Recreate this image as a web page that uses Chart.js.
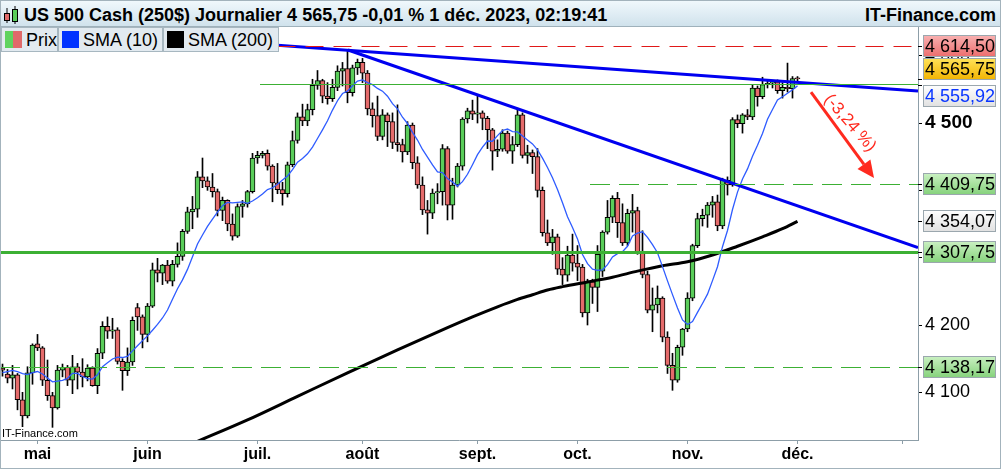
<!DOCTYPE html>
<html lang="fr">
<head>
<meta charset="utf-8">
<title>US 500 Cash (250$) Journalier</title>
<script src="https://cdn.jsdelivr.net/npm/chart.js@4.4.0/dist/chart.umd.min.js"></script>
<style>
  html, body { margin: 0; padding: 0; background: #fff; }
  #wrap { position: relative; width: 1001px; height: 469px; overflow: hidden; font-family: 'Liberation Sans', Arial, sans-serif; color: #000; }
  #chart { position: absolute; left: 0; top: 0; }
  #head { position: absolute; left: 0; top: 0; width: 1001px; height: 27px; box-sizing: border-box; border: 1px solid #9fb1bb; background: linear-gradient(#f0f8fc, #d0e2ec); font-weight: bold; font-size: 18px; }
  #head .t { position: absolute; left: 23px; top: 4px; line-height: 20px; white-space: nowrap; }
  #head .s { position: absolute; right: 4px; top: 4px; line-height: 20px; }
  #head svg { position: absolute; left: 2px; top: 4px; }
  .lg { position: absolute; top: 27px; height: 25px; box-sizing: border-box; border: 1px solid #a7b7c0; background: #e2eaf0; font-size: 18px; white-space: nowrap; }
  .lg .sw { position: absolute; left: 3px; top: 3px; width: 17px; height: 17px; }
  .lg .l { position: absolute; left: 24px; top: 0; line-height: 24px; }
  #wm { position: absolute; left: 2px; top: 427px; font-size: 11px; }
  #frame { position: absolute; left: 0; top: 0; right: 0; bottom: 0; border: 1px solid #a3b3bc; pointer-events: none; }
</style>
</head>
<body>
<div id="wrap">
  <canvas id="chart" width="1001" height="469"></canvas>
  <div id="head">
    <svg width="18" height="20" viewBox="0 0 18 20">
      <line x1="4" y1="3" x2="4" y2="18" stroke="#000"/>
      <rect x="1.5" y="8.5" width="5" height="7" fill="#e06a6a" stroke="#000"/>
      <line x1="12" y1="1" x2="12" y2="19" stroke="#000"/>
      <rect x="9.5" y="4.5" width="5" height="12" fill="#5acd5a" stroke="#000"/>
    </svg>
    <span class="t">US 500 Cash (250$) Journalier 4 565,75 -0,01 % 1 déc. 2023, 02:19:41</span>
    <span class="s">IT-Finance.com</span>
  </div>
  <div class="lg" style="left:1px;width:57px"><span class="sw" style="background:linear-gradient(90deg,#5fd35f 50%,#e06a6a 50%)"></span><span class="l">Prix</span></div>
  <div class="lg" style="left:58px;width:105px"><span class="sw" style="background:#0033ff"></span><span class="l">SMA (10)</span></div>
  <div class="lg" style="left:163px;width:116px"><span class="sw" style="background:#000"></span><span class="l">SMA (200)</span></div>
  <div id="wm">IT-Finance.com</div>
  <div id="frame"></div>
</div>
<script>
// daily candles, US 500 cash CFD
const days = [
  '2023-04-20','2023-04-21','2023-04-24','2023-04-25','2023-04-26','2023-04-27','2023-04-28',
  '2023-05-01','2023-05-02','2023-05-03','2023-05-04','2023-05-05',
  '2023-05-08','2023-05-09','2023-05-10','2023-05-11','2023-05-12',
  '2023-05-15','2023-05-16','2023-05-17','2023-05-18','2023-05-19',
  '2023-05-22','2023-05-23','2023-05-24','2023-05-25','2023-05-26',
  '2023-05-30','2023-05-31',
  '2023-06-01','2023-06-02',
  '2023-06-05','2023-06-06','2023-06-07','2023-06-08','2023-06-09',
  '2023-06-12','2023-06-13','2023-06-14','2023-06-15','2023-06-16',
  '2023-06-19','2023-06-20','2023-06-21','2023-06-22','2023-06-23',
  '2023-06-26','2023-06-27','2023-06-28','2023-06-29','2023-06-30',
  '2023-07-03','2023-07-04','2023-07-05','2023-07-06','2023-07-07',
  '2023-07-10','2023-07-11','2023-07-12','2023-07-13','2023-07-14',
  '2023-07-17','2023-07-18','2023-07-19','2023-07-20','2023-07-21',
  '2023-07-24','2023-07-25','2023-07-26','2023-07-27','2023-07-28',
  '2023-07-31',
  '2023-08-01','2023-08-02','2023-08-03','2023-08-04',
  '2023-08-07','2023-08-08','2023-08-09','2023-08-10','2023-08-11',
  '2023-08-14','2023-08-15','2023-08-16','2023-08-17','2023-08-18',
  '2023-08-21','2023-08-22','2023-08-23','2023-08-24','2023-08-25',
  '2023-08-28','2023-08-29','2023-08-30','2023-08-31',
  '2023-09-01',
  '2023-09-05','2023-09-06','2023-09-07','2023-09-08',
  '2023-09-11','2023-09-12','2023-09-13','2023-09-14','2023-09-15',
  '2023-09-18','2023-09-19','2023-09-20','2023-09-21','2023-09-22',
  '2023-09-25','2023-09-26','2023-09-27','2023-09-28','2023-09-29',
  '2023-10-02','2023-10-03','2023-10-04','2023-10-05','2023-10-06',
  '2023-10-09','2023-10-10','2023-10-11','2023-10-12','2023-10-13',
  '2023-10-16','2023-10-17','2023-10-18','2023-10-19','2023-10-20',
  '2023-10-23','2023-10-24','2023-10-25','2023-10-26','2023-10-27',
  '2023-10-30','2023-10-31',
  '2023-11-01','2023-11-02','2023-11-03',
  '2023-11-06','2023-11-07','2023-11-08','2023-11-09','2023-11-10',
  '2023-11-13','2023-11-14','2023-11-15','2023-11-16','2023-11-17',
  '2023-11-20','2023-11-21','2023-11-22','2023-11-23','2023-11-24',
  '2023-11-27','2023-11-28','2023-11-29','2023-11-30',
  '2023-12-01'
];

const open = [
  4136, 4127, 4121, 4126, 4089, 4065, 4129,
  4172, 4166, 4118, 4095, 4077,
  4133, 4137, 4118, 4138, 4130,
  4123, 4136, 4110, 4158, 4198,
  4191, 4193, 4146, 4132, 4145,
  4226, 4212,
  4186, 4228,
  4282, 4277, 4289, 4265, 4290,
  4302, 4339, 4368, 4372, 4420,
  4414, 4405, 4398, 4370, 4385,
  4350, 4332, 4376, 4380, 4398,
  4448, 4452, 4455, 4436, 4411,
  4401, 4395, 4438, 4474, 4509,
  4503, 4520, 4556, 4563, 4540,
  4536, 4553, 4577, 4581, 4545,
  4582,
  4590, 4574, 4521, 4511,
  4480, 4512, 4502, 4471, 4468,
  4457, 4497, 4441, 4408, 4371,
  4366, 4396, 4398, 4462, 4378,
  4408, 4436, 4506, 4518,
  4513,
  4515, 4507, 4490, 4458,
  4461, 4485, 4458, 4468, 4512,
  4452, 4456, 4450, 4400, 4337,
  4322, 4331, 4283, 4274, 4304,
  4292, 4286, 4218, 4264, 4256,
  4280, 4338, 4360, 4388, 4352,
  4322, 4366, 4370, 4308, 4275,
  4222, 4230, 4240, 4182, 4140,
  4118, 4167,
  4194, 4240, 4318,
  4358, 4363, 4378, 4383, 4347,
  4415, 4408, 4505, 4499, 4512,
  4509, 4552, 4539, 4557, 4559,
  4561, 4548, 4553, 4551,
  4566
];

const high = [
  4142, 4134, 4140, 4128, 4100, 4138, 4172,
  4186, 4168, 4148, 4100, 4140,
  4142, 4140, 4155, 4143, 4150,
  4141, 4138, 4165, 4205, 4212,
  4210, 4196, 4150, 4166, 4212,
  4232, 4215,
  4232, 4292,
  4299, 4290, 4296, 4296, 4322,
  4342, 4375, 4391, 4428, 4448,
  4420, 4425, 4402, 4390, 4386,
  4365, 4380, 4385, 4400, 4455,
  4458, 4458, 4460, 4438, 4440,
  4412, 4442, 4488, 4515, 4528,
  4528, 4565, 4578, 4565, 4560,
  4565, 4585, 4590, 4607, 4586,
  4595,
  4596, 4578, 4530, 4540,
  4520, 4515, 4515, 4527, 4476,
  4502, 4500, 4450, 4420, 4385,
  4402, 4410, 4468, 4465, 4418,
  4440, 4508, 4522, 4534,
  4541,
  4518, 4510, 4492, 4475,
  4490, 4488, 4480, 4522, 4515,
  4467, 4460, 4462, 4405, 4356,
  4342, 4335, 4300, 4317, 4335,
  4318, 4290, 4268, 4268, 4318,
  4340, 4385, 4392, 4397, 4380,
  4372, 4394, 4375, 4340, 4280,
  4255, 4258, 4242, 4190, 4158,
  4170, 4195,
  4248, 4320, 4366,
  4372, 4382, 4391, 4393, 4418,
  4420, 4508, 4512, 4514, 4520,
  4556, 4555, 4568, 4562, 4562,
  4564, 4560, 4589, 4569,
  4569
];

const low = [
  4124, 4114, 4105, 4074, 4049, 4062, 4112,
  4162, 4110, 4088, 4048, 4075,
  4123, 4110, 4098, 4105, 4108,
  4117, 4109, 4098, 4150, 4180,
  4180, 4142, 4103, 4125, 4140,
  4192, 4166,
  4175, 4226,
  4264, 4260, 4262, 4258, 4286,
  4296, 4336, 4343, 4360, 4404,
  4400, 4390, 4362, 4355, 4340,
  4326, 4330, 4360, 4375, 4396,
  4440, 4448, 4430, 4383, 4395,
  4378, 4390, 4435, 4470, 4496,
  4496, 4512, 4550, 4530, 4528,
  4532, 4548, 4555, 4530, 4540,
  4572,
  4560, 4512, 4494, 4474,
  4475, 4465, 4462, 4458, 4442,
  4453, 4432, 4403, 4364, 4335,
  4358, 4380, 4378, 4356, 4357,
  4405, 4430, 4500, 4505,
  4500,
  4490, 4462, 4430, 4450,
  4458, 4455, 4440, 4465, 4448,
  4440, 4425, 4390, 4332, 4318,
  4305, 4275, 4260, 4265, 4280,
  4266, 4212, 4200, 4232, 4220,
  4272, 4335, 4352, 4330, 4318,
  4318, 4338, 4305, 4270, 4218,
  4190, 4218, 4175, 4128, 4103,
  4115, 4155,
  4190, 4236, 4315,
  4347, 4345, 4360, 4340, 4343,
  4393, 4406, 4493, 4485, 4505,
  4505, 4525, 4536, 4552, 4552,
  4544, 4537, 4546, 4537,
  4562
];

const close = [
  4133, 4121, 4126, 4089, 4065, 4129, 4170,
  4166, 4118, 4095, 4077, 4133,
  4137, 4118, 4138, 4130, 4123,
  4136, 4110, 4158, 4198, 4191,
  4193, 4146, 4132, 4145, 4207,
  4212, 4186,
  4228, 4282,
  4277, 4289, 4265, 4290, 4302,
  4339, 4368, 4372, 4420, 4414,
  4405, 4398, 4370, 4385, 4350,
  4332, 4376, 4380, 4398, 4448,
  4452, 4455, 4436, 4411, 4401,
  4395, 4438, 4474, 4509, 4503,
  4520, 4556, 4563, 4540, 4536,
  4553, 4577, 4581, 4545, 4582,
  4590,
  4574, 4521, 4511, 4480,
  4512, 4502, 4471, 4468, 4457,
  4497, 4441, 4408, 4371, 4366,
  4396, 4398, 4462, 4378, 4408,
  4436, 4506, 4518, 4513,
  4515,
  4507, 4490, 4458, 4461,
  4485, 4458, 4468, 4512, 4452,
  4456, 4450, 4400, 4337, 4322,
  4331, 4283, 4274, 4304, 4292,
  4286, 4218, 4264, 4256, 4305,
  4338, 4360, 4388, 4352, 4322,
  4366, 4370, 4308, 4275, 4222,
  4230, 4240, 4182, 4140, 4118,
  4167, 4194,
  4240, 4318, 4358,
  4363, 4378, 4383, 4347, 4415,
  4408, 4505, 4499, 4512, 4509,
  4552, 4539, 4557, 4559, 4561,
  4548, 4553, 4551, 4566,
  4565.75
];

// closes before the first candle, only used to start the 10-day average
const priorCloses = [4105, 4109, 4109, 4092, 4146, 4138, 4151, 4155, 4155];

// 200-day average (candle index, value)
const sma200Day = [38, 49, 59, 69, 79, 89, 94, 99, 103, 106, 109, 112, 117, 122, 127, 132, 137, 142, 147, 152, 156, 159];
const sma200Val = [4024, 4059, 4094, 4129, 4163, 4196, 4212, 4227, 4238, 4245, 4252, 4257, 4264, 4271, 4280, 4288, 4294, 4304, 4317, 4331, 4343, 4354];

// horizontal levels and where they start (candle index)
const levels = [4614.5, 4557.9, 4409.75, 4307.75, 4138.17];
const levelFrom = [55, 51.5, 117.5, -1, -1];

// hand drawn trend lines: [index, value]
const trendUpper = [[48, 4619.1], [183.1, 4547.5]];
const trendLower = [[69.1, 4608.4], [183.1, 4315.1]];
const arrowFrom = [161.7, 4546];
const arrowTo = [174.3, 4418.3];
const arrowText = '(-3,24 %)';

// right axis tags
const priceTags = [4614.50, 4565.75, 4555.92, 4409.75, 4354.07, 4307.75, 4138.17];
const yTicks = [4100, 4200, 4300, 4400, 4500, 4600];
const monthNames = ['janv.', 'févr.', 'mars', 'avr.', 'mai', 'juin', 'juil.', 'août', 'sept.', 'oct.', 'nov.', 'déc.'];
const nextMonthTick = 180; // janv. 2024, no label

const FONT = "'Liberation Sans', Arial, sans-serif";
const UP = '#5acd5a', DOWN = '#e56b6b';

const fmtFr = (v, dec) => {
  const p = v.toFixed(dec).split('.');
  const i = p[0].replace(/\B(?=(\d{3})+(?!\d))/g, ' ');
  return dec ? i + ',' + p[1] : i;
};

// month ticks at first candle of each month
const monthTicks = [];
const monthLabel = {};
days.forEach((d, i) => {
  if (i > 0 && d.slice(5, 7) !== days[i - 1].slice(5, 7)) {
    monthTicks.push(i);
    monthLabel[i] = monthNames[parseInt(d.slice(5, 7), 10) - 1];
  }
});
monthTicks.push(nextMonthTick);
monthLabel[nextMonthTick] = '';

const allCloses = priorCloses.concat(close);
const sma10 = close.map((c, i) => {
  let s = 0;
  for (let k = i; k < i + 10; k++) s += allCloses[k];
  return s / 10;
});

const tagLook = [
  { fill: ['#f9b2b2', '#ec6c6c'], text: '#000', dy: 0 },
  { fill: ['#ffe35a', '#f2b300'], text: '#000', dy: -10 },
  { fill: ['#ffffff', '#e0e0e0'], text: '#0a36ff', dy: 11 },
  { fill: ['#cbf1c3', '#84d17a'], text: '#000', dy: 0 },
  { fill: ['#ffffff', '#e0e0e0'], text: '#000', dy: 0 },
  { fill: ['#cbf1c3', '#84d17a'], text: '#000', dy: 0 },
  { fill: ['#cbf1c3', '#84d17a'], text: '#000', dy: 0 }
];
const levelLook = [
  { color: '#e01818', width: 1, dash: [18, 10] },
  { color: '#3cb034', width: 1, dash: [] },
  { color: '#3cb034', width: 1, dash: [20, 9] },
  { color: '#3cb034', width: 3, dash: [] },
  { color: '#3cb034', width: 1, dash: [20, 9] }
];

const overlay = {
  id: 'overlay',
  afterDatasetsDraw(chart) {
    const { ctx, chartArea: a, scales: { x, y } } = chart;
    ctx.save();
    ctx.beginPath();
    ctx.rect(a.left, a.top, a.width, a.height);
    ctx.clip();
    // support / resistance levels, snapped to whole pixels
    levels.forEach((v, k) => {
      const l = levelLook[k];
      const py = Math.round(y.getPixelForValue(v)) + (l.width % 2 ? 0.5 : 0);
      ctx.strokeStyle = l.color;
      ctx.lineWidth = l.width;
      ctx.setLineDash(l.dash);
      ctx.beginPath();
      ctx.moveTo(Math.max(a.left, x.getPixelForValue(levelFrom[k])), py);
      ctx.lineTo(a.right, py);
      ctx.stroke();
    });
    ctx.setLineDash([]);

    const x0 = x.getPixelForValue(arrowFrom[0]), y0 = y.getPixelForValue(arrowFrom[1]);
    const x1 = x.getPixelForValue(arrowTo[0]), y1 = y.getPixelForValue(arrowTo[1]);
    const ang = Math.atan2(y1 - y0, x1 - x0), c = Math.cos(ang), s = Math.sin(ang);
    const hx = x1 - 17 * c, hy = y1 - 17 * s;
    ctx.strokeStyle = ctx.fillStyle = '#ff2a1f';
    ctx.lineWidth = 3;
    ctx.beginPath(); ctx.moveTo(x0, y0); ctx.lineTo(hx, hy); ctx.stroke();
    ctx.beginPath();
    ctx.moveTo(x1, y1);
    ctx.lineTo(hx + 8 * s, hy - 8 * c);
    ctx.lineTo(hx - 8 * s, hy + 8 * c);
    ctx.closePath(); ctx.fill();
    // label runs along the arrow, above it
    ctx.translate(x0 + 48 * c + 13 * s, y0 + 48 * s - 13 * c);
    ctx.rotate(ang - 0.08);
    ctx.font = '17px ' + FONT;
    ctx.textAlign = 'center';
    ctx.textBaseline = 'middle';
    ctx.fillText(arrowText, 0, 0);
    ctx.restore();
  },
  afterDraw(chart) {
    const { ctx, chartArea: area, scales: { y } } = chart;
    ctx.save();
    priceTags.forEach((v, k) => {
      const look = tagLook[k];
      const py = Math.round(y.getPixelForValue(v));
      const cy = py + look.dy;
      ctx.strokeStyle = '#000';
      ctx.lineWidth = 1;
      ctx.beginPath(); ctx.moveTo(area.right, py + 0.5); ctx.lineTo(area.right + 4, py + 0.5); ctx.stroke();
      const top = cy - 11, left = 923, w = 73, h = 22;
      const g = ctx.createLinearGradient(0, top, 0, top + h);
      g.addColorStop(0, look.fill[0]);
      g.addColorStop(1, look.fill[1]);
      ctx.fillStyle = g;
      ctx.fillRect(left, top, w, h);
      ctx.strokeStyle = '#9ba7ae';
      ctx.strokeRect(left + 0.5, top + 0.5, w - 1, h - 1);
      ctx.fillStyle = look.text;
      ctx.font = '18px ' + FONT;
      ctx.textAlign = 'left';
      ctx.textBaseline = 'middle';
      ctx.fillText(fmtFr(v, 2), left + 2, cy + 1);
    });
    ctx.restore();
  }
};

const lineSet = (pts, color, width, order, smooth) => ({
  type: 'line',
  data: pts.map(p => ({ x: p[0], y: p[1] })),
  borderColor: color,
  borderWidth: width,
  pointRadius: 0,
  tension: smooth ? 0.4 : 0,
  cubicInterpolationMode: smooth ? 'monotone' : 'default',
  fill: false,
  order: order
});

const datasets = [
  {
    type: 'bar',
    data: days.map((d, i) => ({ x: i, y: [low[i], high[i]] })),
    backgroundColor: '#000',
    barThickness: 1,
    grouped: false,
    order: 10
  },
  {
    type: 'bar',
    data: days.map((d, i) => ({ x: i, y: [open[i], close[i]] })),
    backgroundColor: ctx => close[ctx.dataIndex] >= open[ctx.dataIndex] ? UP : DOWN,
    borderColor: '#000',
    borderWidth: 1,
    borderSkipped: false,
    barThickness: 5,
    minBarLength: 1,
    grouped: false,
    order: 9
  },
  lineSet(sma200Day.map((d, k) => [d, sma200Val[k]]), '#000', 3, 6, true),
  lineSet(sma10.map((v, i) => [i, v]), '#2f5cff', 1.3, 5, false),
  lineSet(trendUpper, '#0000f0', 3, 3, false),
  lineSet(trendLower, '#0000f0', 3, 3, false)
];

Chart.defaults.font.family = FONT;

new Chart(document.getElementById('chart'), {
  type: 'bar',
  data: { datasets },
  options: {
    responsive: false,
    animation: false,
    devicePixelRatio: 1,
    events: [],
    layout: { padding: { top: 27, left: 0, right: 0, bottom: 0 } },
    plugins: { legend: { display: false }, tooltip: { enabled: false } },
    scales: {
      x: {
        type: 'linear',
        min: -0.5,
        max: 183.1,
        offset: false,
        grid: { drawOnChartArea: false, drawTicks: true, tickLength: 4, color: '#8d9ea8', offset: false },
        border: { color: '#8d9ea8' },
        afterBuildTicks: s => { s.ticks = monthTicks.map(v => ({ value: v })); },
        afterFit: s => { s.height = 29; },
        ticks: {
          autoSkip: false,
          maxRotation: 0,
          padding: 1,
          color: '#000',
          font: { size: 16, weight: 'bold' },
          callback: v => monthLabel[v] || ''
        }
      },
      y: {
        type: 'linear',
        position: 'right',
        min: 4029.2,
        max: 4642.6,
        grid: { drawOnChartArea: false, tickLength: 4, color: '#000' },
        border: { color: '#8d9ea8' },
        afterBuildTicks: s => { s.ticks = yTicks.map(v => ({ value: v })); },
        afterFit: s => { s.width = 83; },
        ticks: {
          padding: 3,
          color: '#000',
          font: ctx => (ctx.tick && ctx.tick.value === 4500)
            ? { size: 19, weight: 'bold' }
            : { size: 18, weight: 'normal' },
          callback: v => fmtFr(v, 0)
        }
      }
    }
  },
  plugins: [overlay]
});
</script>
</body>
</html>
